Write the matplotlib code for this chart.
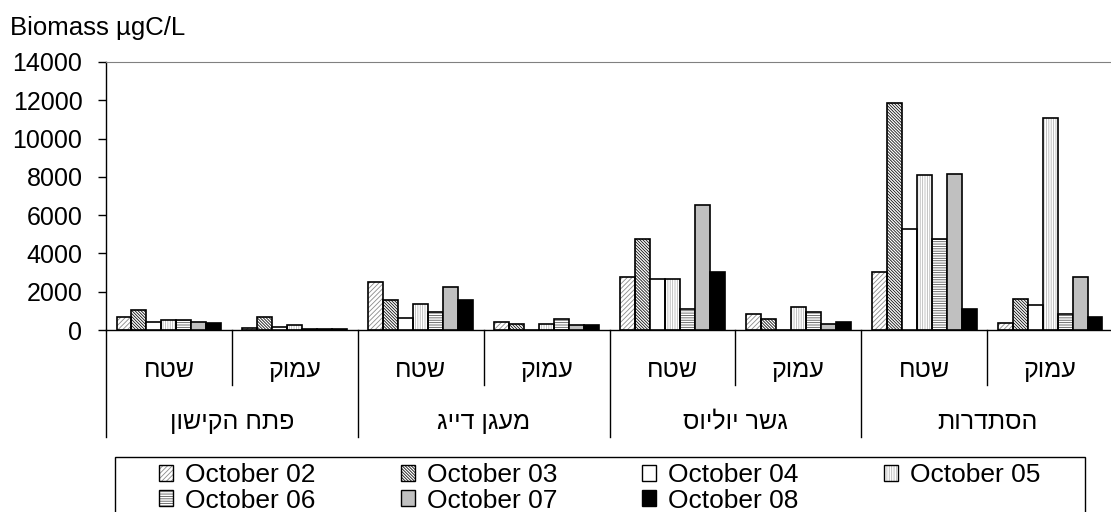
"""Biomass per station / depth, October 02-08, grouped bars with two-level category axis."""
import matplotlib
matplotlib.use("Agg")
import matplotlib.pyplot as plt
from matplotlib.patches import Patch, Rectangle

plt.rcParams["font.family"] = ["Liberation Sans", "DejaVu Sans"]
plt.rcParams["hatch.linewidth"] = 0.6

# station names and depth levels (logical Hebrew order, reversed for drawing)
stations = ["פתח הקישון", "מעגן דייג", "גשר יוליוס", "הסתדרות"]
depths = ["שטח", "עמוק"]

dates = ["October 02", "October 03", "October 04", "October 05",
         "October 06", "October 07", "October 08"]

# one value per (station, depth) sub-category, left to right
oct02 = [700, 85, 2500, 420, 2750, 850, 3040, 380]
oct03 = [1025, 700, 1550, 330, 4760, 590, 11860, 1640]
oct04 = [435, 175, 610, 0, 2660, 0, 5290, 1290]
oct05 = [520, 245, 1370, 330, 2660, 1200, 8090, 11060]
oct06 = [520, 70, 950, 590, 1110, 920, 4770, 840]
oct07 = [435, 70, 2260, 240, 6520, 300, 8170, 2770]
oct08 = [350, 70, 1570, 250, 3040, 420, 1110, 700]
series = [oct02, oct03, oct04, oct05, oct06, oct07, oct08]

# fill, hatch, hatch colour per series
styles = [
    ("white", "///////", "#8a8a8a"),
    ("white", "\\" * 11, "#101010"),
    ("white", "", "black"),
    ("white", "|" * 7, "#b8b8b8"),
    ("white", "-" * 7, "#5a5a5a"),
    ("#c0c0c0", "", "black"),
    ("black", "", "black"),
]

W, H = 1111, 512
fig = plt.figure(figsize=(W / 100, H / 100), dpi=100)
ax = fig.add_axes([106 / W, 1 - 330 / H, 1007 / W, 268 / H])

n_cat = len(stations) * len(depths)
bw = 0.119
off = (1 - len(series) * bw) / 2
for j, (vals, (fc, hatch, hc)) in enumerate(zip(series, styles)):
    xs = [i + off + bw * (j + 0.5) for i in range(n_cat)]
    if hatch:
        ax.bar(xs, vals, bw, color=fc, edgecolor=hc, hatch=hatch, lw=0, zorder=2)
        ax.bar(xs, vals, bw, fill=False, edgecolor="black", lw=1.2, zorder=3)
    else:
        ax.bar(xs, vals, bw, color=fc, edgecolor="black", lw=1.2, zorder=3)

ax.set_xlim(0, n_cat)
ax.set_ylim(0, 14000)
ax.set_yticks(range(0, 14001, 2000))
ax.set_xticks([])
ax.tick_params(axis="y", direction="out", length=6, width=1, pad=11, labelsize=18)
ax.spines["right"].set_visible(False)
ax.spines["top"].set_color("#808080")
ax.spines["left"].set_linewidth(1)
ax.spines["bottom"].set_linewidth(1)

# two-level category axis
tr = ax.get_xaxis_transform()
for i in range(n_cat + 1):
    y_end = -0.40 if i % 2 == 0 else -0.205
    ax.plot([i, i], [0, y_end], color="black", lw=1, transform=tr, clip_on=False)
for i in range(n_cat):
    ax.text(i + 0.5, -0.15, depths[i % 2][::-1], transform=tr, ha="center",
            va="center", fontsize=18)
for k, name in enumerate(stations):
    ax.text(2 * k + 1, -0.343, name[::-1], transform=tr, ha="center",
            va="center", fontsize=18)

fig.text(10 / W, 1 - 28 / H, "Biomass µgC/L", fontsize=18.5, va="center", ha="left")

# legend, filled row by row (matplotlib fills column-wise, so reorder)
handles = []
for fc, hatch, hc in styles:
    if hatch:
        handles.append((Patch(facecolor=fc, edgecolor=hc, hatch=hatch, lw=0),
                        Patch(fill=False, edgecolor="black", lw=1)))
    else:
        handles.append(Patch(facecolor=fc, edgecolor="black", lw=1))
order = [0, 4, 1, 5, 2, 6, 3]
fig.add_artist(Rectangle((115 / W, -0.1), 970 / W, (512 - 457) / H + 0.1,
                         transform=fig.transFigure, fill=False,
                         edgecolor="black", lw=1))
fig.legend([handles[i] for i in order], [dates[i] for i in order],
           loc="upper left", bbox_to_anchor=(159 / W, 1 - 463 / H),
           ncol=4, frameon=False, fontsize=19, borderpad=0, borderaxespad=0,
           handlelength=0.54, handleheight=0.54, handletextpad=0.45,
           columnspacing=3.22, labelspacing=0.06)

fig.savefig("out.png", dpi=100)
